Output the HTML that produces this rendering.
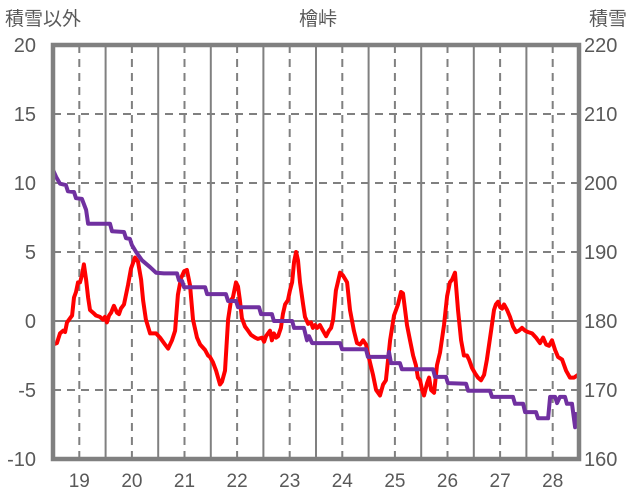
<!DOCTYPE html>
<html><head><meta charset="utf-8">
<style>
html,body{margin:0;padding:0;background:#fff;}
svg{display:block;font-family:"Liberation Sans","Noto Sans CJK JP",sans-serif;}
</style></head>
<body>
<svg id="chart" width="636" height="501" viewBox="0 0 636 501" xmlns="http://www.w3.org/2000/svg">
<text x="5" y="25" font-size="19" fill="#595959">積雪以外</text>
<text x="318" y="25" font-size="19" fill="#595959" text-anchor="middle">檜峠</text>
<text x="589" y="25" font-size="19" fill="#595959">積雪</text>
<g id="grid"></g>
<g id="series"></g>
<rect x="53" y="45" width="526" height="414" fill="none" stroke="#808080" stroke-width="4.5"/>
<g id="labels"></g>
</svg>
<script>
const leftTicks = [-10,-5,0,5,10,15,20];
const rightTicks = [160,170,180,190,200,210,220];
const dayLabels = ['19','20','21','22','23','24','25','26','27','28'];
// hours since day 18 12:00
const redHours = [0,1.8,3.2,4.6,5.5,6.4,7.8,8.7,9.6,10.5,11.4,12.3,13.2,14.1,15.1,16.0,16.9,18.3,19.6,21.4,22.8,23.7,24.6,25.6,26.5,27.8,29.2,30.1,31.0,32.4,34.2,35.6,37.4,38.8,40.2,41.1,42.4,44.3,47.0,48.8,51.1,52.5,54.3,55.7,57.0,58.4,59.8,61.1,62.5,63.9,65.7,67.1,69.4,70.7,71.6,73.0,74.4,76.2,77.1,78.5,79.9,81.2,82.1,83.5,84.4,85.3,86.2,87.6,89.0,90.3,92.2,93.5,95.4,96.3,97.2,98.1,99.0,99.9,100.8,101.8,102.7,104.0,104.9,105.9,107.2,108.1,109.1,110.0,110.9,111.8,112.7,114.1,115.0,116.4,117.7,118.6,119.6,120.5,121.8,123.2,124.6,125.9,126.9,127.8,129.1,131.0,132.3,134.2,135.5,137.3,138.7,140.1,141.5,142.8,144.2,146.0,147.4,149.2,150.6,151.9,153.8,155.6,157.4,158.8,159.7,161.5,162.9,164.3,165.6,166.5,167.5,168.4,169.3,170.7,171.6,172.5,173.9,175.2,176.6,178.4,179.8,181.1,182.1,183.4,184.8,186.2,187.5,188.9,189.8,191.2,192.6,193.9,195.3,196.7,198.0,199.9,201.2,202.1,203.1,204.0,204.9,205.8,207.2,208.5,209.9,211.3,212.6,214.0,215.4,216.7,218.6,220.4,222.2,223.6,225.0,226.3,227.7,229.1,230.4,232.3,234.1,235.9,237.7,239.6];
const redValues = [-1.7,-1.6,-0.9,-0.7,-0.8,-0.1,0.2,0.4,1.7,2.1,2.8,2.8,3.3,4.1,3.0,1.7,0.8,0.6,0.4,0.3,0.1,0.3,-0.1,0.4,0.6,1.1,0.6,0.5,0.9,1.2,2.6,3.8,4.6,4.3,3.0,1.5,0.1,-0.9,-0.9,-1.2,-1.7,-2.0,-1.4,-0.7,1.9,3.1,3.6,3.7,2.6,0.1,-1.2,-1.7,-2.1,-2.5,-2.6,-3.0,-3.6,-4.6,-4.4,-3.6,0.1,1.5,1.7,2.8,2.5,1.5,0.2,-0.4,-0.7,-1.0,-1.2,-1.3,-1.2,-1.5,-1.1,-0.9,-0.7,-1.4,-0.9,-1.2,-1.1,-0.5,0.5,1.2,1.5,2.2,2.8,4.3,5.0,4.4,2.8,1.2,0.3,-0.2,-0.1,-0.5,-0.3,-0.5,-0.3,-0.7,-1.1,-0.7,-0.5,0.1,2.2,3.5,3.3,2.8,0.8,-0.7,-1.6,-1.7,-1.4,-1.7,-2.7,-3.9,-5.0,-5.4,-4.6,-4.3,-1.4,0.4,1.2,2.1,2.0,-0.3,-1.4,-2.5,-3.2,-4.1,-4.3,-5.0,-5.4,-4.5,-4.1,-5.0,-5.2,-3.2,-2.3,-0.3,1.8,2.8,3.0,3.5,0.8,-1.4,-2.5,-2.5,-2.8,-3.4,-3.8,-4.1,-4.3,-3.9,-2.8,-0.7,0.8,1.2,1.4,1.0,0.9,1.2,0.8,0.3,-0.4,-0.8,-0.7,-0.5,-0.7,-0.8,-0.9,-1.2,-1.6,-1.2,-1.7,-1.8,-1.4,-2.1,-2.6,-2.8,-3.6,-4.1,-4.1,-3.9];
const snowHours = [0,1.4,3.2,5.9,6.8,9.6,10.5,13.2,15.1,16.0,26.0,26.9,32.4,33.3,35.1,36.0,37.9,40.6,44.3,47.0,50.6,56.6,57.5,58.9,59.8,69.4,70.3,78.9,79.9,83.5,84.4,94.0,94.9,99.9,100.8,109.1,110.0,114.5,115.9,116.8,118.2,131.0,131.9,142.8,143.7,152.9,153.3,154.2,158.3,159.2,173.4,174.3,179.3,180.2,188.5,189.4,199.4,200.3,209.9,210.8,214.5,215.4,220.4,221.3,225.9,226.8,229.1,230.0,231.3,233.6,234.5,236.8,238.2,239.1];
const snowValues = [201.9,200.9,199.9,199.7,198.8,198.7,197.8,197.7,196.1,194.1,194.1,193.0,192.9,192.0,191.9,191.0,190.0,188.8,187.8,187.0,186.9,186.9,185.9,185.8,184.9,184.9,183.9,183.9,182.9,182.9,182.0,182.0,181.0,181.0,180.0,180.0,179.0,179.0,177.2,177.8,176.8,176.8,175.9,175.9,174.8,174.8,175.5,173.9,173.9,173.0,173.0,171.9,171.9,171.0,170.9,169.9,169.9,169.0,169.0,168.0,168.0,166.8,166.8,165.9,165.9,169.0,169.0,168.1,169.0,169.0,168.0,168.0,164.6,166.8];

const NS='http://www.w3.org/2000/svg';
const X0=53,X1=579,Y0=459,Y1=45;
function xScale(h){return X0+(h/240)*(X1-X0);}
function yLeft(v){return Y0-(v+10)/30*(Y0-Y1);}
function yRight(v){return Y0-(v-160)/60*(Y0-Y1);}
function mk(tag,attrs,parent){const e=document.createElementNS(NS,tag);for(const k in attrs)e.setAttribute(k,attrs[k]);parent.appendChild(e);return e;}
const grid=document.getElementById('grid'),series=document.getElementById('series'),labels=document.getElementById('labels');
for(let i=0;i<dayLabels.length;i++){
  const xd=xScale(12+24*i);
  const l=mk('line',{x1:xd,x2:xd,y1:Y1,y2:Y0,stroke:'#808080','stroke-width':2,'stroke-dasharray':'8,6'},grid);
  
  
  if(i>0){const xs=xScale(24*i);
    const s=mk('line',{x1:xs,x2:xs,y1:Y1,y2:Y0,stroke:'#808080','stroke-width':2},grid);
    
    }
  const t=mk('text',{x:xd,y:487,'font-size':19,fill:'#595959','text-anchor':'middle'},labels);
  t.textContent=dayLabels[i];
  
  
}
leftTicks.forEach((v,i)=>{
  const y=yLeft(v);
  if(v>-10&&v<20){
    const g=mk('line',{x1:X0,x2:X1,y1:y,y2:y,stroke:'#808080','stroke-width':2},grid);
    if(v!==0)g.setAttribute('stroke-dasharray','8,6');
    
    
  }
  const t=mk('text',{x:36,y:y+7,'font-size':20,fill:'#595959','text-anchor':'end'},labels);
  t.textContent=String(v);
  
  
  const r=mk('text',{x:584,y:yRight(rightTicks[i])+7,'font-size':20,fill:'#595959'},labels);
  r.textContent=String(rightTicks[i]);
  
  
});
const redPts=redHours.map((h,i)=>xScale(h).toFixed(1)+','+yLeft(redValues[i]).toFixed(1)).join(' ');
const rl=mk('polyline',{points:redPts,fill:'none',stroke:'#ff0000','stroke-width':4,'stroke-linejoin':'round'},series);


const snowPts=snowHours.map((h,i)=>xScale(h).toFixed(1)+','+yRight(snowValues[i]).toFixed(1)).join(' ');
const sl=mk('polyline',{points:snowPts,fill:'none',stroke:'#7030a0','stroke-width':4,'stroke-linejoin':'round'},series);


</script>
</body></html>
